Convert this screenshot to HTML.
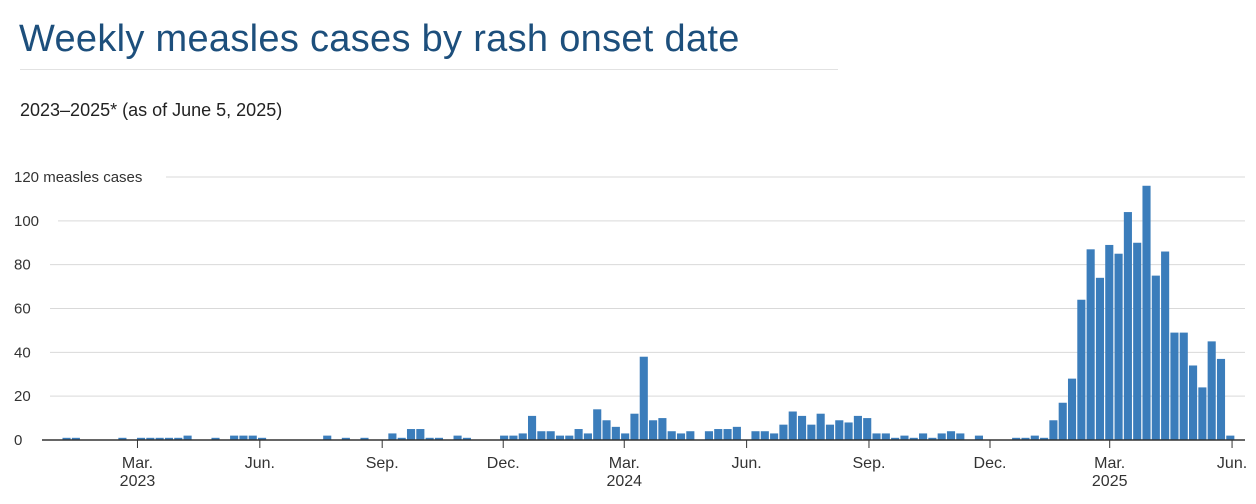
<!DOCTYPE html>
<html><head><meta charset="utf-8"><style>
body{margin:0;background:#fff;font-family:"Liberation Sans",sans-serif;}
#wrap{position:relative;width:1256px;height:504px;overflow:hidden;}
</style></head><body>
<div id="wrap">
<div style="position:absolute;left:19px;top:18px;font-size:38px;color:#1d4f7c;letter-spacing:0.3px;">Weekly measles cases by rash onset date</div>
<div style="position:absolute;left:20px;top:69px;width:818px;height:1px;background:#e2e2e2;"></div>
<div style="position:absolute;left:20px;top:100px;font-size:18px;color:#222;">2023–2025* (as of June 5, 2025)</div>
<svg id="chart" width="1256" height="504" style="position:absolute;left:0;top:0"></svg>
</div>
<script>
const values=[1,1,0,0,0,0,1,0,1,1,1,1,1,2,0,0,1,0,2,2,2,1,0,0,0,0,0,0,2,0,1,0,1,0,0,3,1,5,5,1,1,0,2,1,0,0,0,2,2,3,11,4,4,2,2,5,3,14,9,6,3,12,38,9,10,4,3,4,0,4,5,5,6,0,4,4,3,7,13,11,7,12,7,9,8,11,10,3,3,1,2,1,3,1,3,4,3,0,2,0,0,0,1,1,2,1,9,17,28,64,87,74,89,85,104,90,116,75,86,49,49,34,24,45,37,2];
const yTicks=[0,20,40,60,80,100,120];
const monthTicks=["2023-03-01","2023-06-01","2023-09-01","2023-12-01","2024-03-01","2024-06-01","2024-09-01","2024-12-01","2025-03-01","2025-06-01"];
const monthLabels=["Mar.","Jun.","Sep.","Dec.","Mar.","Jun.","Sep.","Dec.","Mar.","Jun."];
const yearLabels=["2023","","","","2024","","","","2025",""];
const startDate="2023-01-01";
const NS="http://www.w3.org/2000/svg";
const svg=document.getElementById('chart');
const X0=62,PITCH=9.31,Y0=440,YPX=263/120;
const day=864e5;
function xWeek(i){return X0+i*PITCH;}
function xDate(d){return X0+(new Date(d)-new Date(startDate))/day/7*PITCH;}
function y(v){return Y0-v*YPX;}
function mk(t,a){const e=document.createElementNS(NS,t);for(const k in a)e.setAttribute(k,a[k]);svg.appendChild(e);return e;}
yTicks.forEach((v,i)=>{
  const lbl=v===120?"120 measles cases":String(v);
  const startX=v===120?166:(v>=100?58:(v>0?50:42));
  if(v>0){const g=mk('line',{x1:startX,x2:1245,y1:y(v),y2:y(v),stroke:'#d9d9d9','stroke-width':1});
  
  }
  const t=mk('text',{x:14,y:y(v)+5,'font-size':15,fill:'#333','font-family':'Liberation Sans, sans-serif'});
  t.textContent=lbl;
  
  
});
values.forEach((v,i)=>{
  if(v<=0)return;
  const r=mk('rect',{x:xWeek(i)+0.5,y:y(v),width:PITCH-1.2,height:v*YPX,fill:'#3b7dbb'});
  
  
});
const ax=mk('line',{x1:42,x2:1245,y1:Y0,y2:Y0,stroke:'#333','stroke-width':1.5});


monthTicks.forEach((d,i)=>{
  const xx=xDate(d)-3;
  const tk=mk('line',{x1:xx,x2:xx,y1:Y0,y2:Y0+8,stroke:'#333','stroke-width':1});
  
  
  const t=mk('text',{x:xx,y:468,'font-size':16,fill:'#333','text-anchor':'middle','font-family':'Liberation Sans, sans-serif'});
  t.textContent=monthLabels[i];
  
  
  if(yearLabels[i]){
    const t2=mk('text',{x:xx,y:486,'font-size':16,fill:'#333','text-anchor':'middle','font-family':'Liberation Sans, sans-serif'});
    t2.textContent=yearLabels[i];
    
    
  }
});
</script>
</body></html>
